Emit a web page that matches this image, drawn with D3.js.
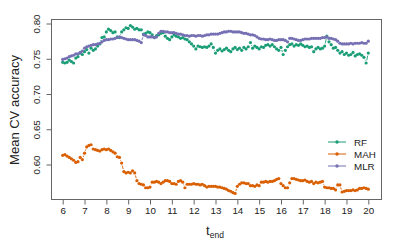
<!DOCTYPE html>
<html>
<head>
<meta charset="utf-8">
<script src="https://cdn.jsdelivr.net/npm/d3@7"></script>
<style>
  body { margin: 0; background: #fff; }
  text { font-family: "Liberation Sans", Arial, sans-serif; fill: #222; }
</style>
</head>
<body>
<div id="chart"></div>
<script>
// t_end grid: 6.0 .. 20.0 in steps of 0.1
var tStart = 6
var tStep = 0.1

var xTicks = [6, 7, 8, 9, 10, 11, 12, 13, 14, 15, 16, 17, 18, 19, 20]
var yTicks = [0.60, 0.65, 0.70, 0.75, 0.80]

var seriesNames = ['RF', 'MAH', 'MLR']
var seriesColors = ['#1b9e77', '#d95f02', '#7570b3']

var rf = [
  0.745, 0.744, 0.745, 0.748, 0.746, 0.744, 0.751, 0.753, 0.758, 0.756,
  0.760, 0.763, 0.758, 0.765, 0.762, 0.764, 0.768, 0.771, 0.780, 0.781,
  0.788, 0.792, 0.790, 0.787, 0.788, 0.781, 0.780, 0.788, 0.791, 0.794,
  0.793, 0.797, 0.795, 0.792, 0.793, 0.791, 0.791, 0.785, 0.786, 0.788,
  0.787, 0.784, 0.780, 0.783, 0.784, 0.786, 0.787, 0.782, 0.779, 0.777,
  0.781, 0.784, 0.782, 0.781, 0.779, 0.780, 0.778, 0.777, 0.774, 0.771,
  0.768, 0.764, 0.768, 0.767, 0.766, 0.767, 0.766, 0.768, 0.771, 0.766,
  0.758, 0.762, 0.764, 0.761, 0.763, 0.765, 0.762, 0.760, 0.764, 0.766,
  0.763, 0.765, 0.762, 0.766, 0.764, 0.767, 0.773, 0.765, 0.768, 0.766,
  0.764, 0.767, 0.766, 0.769, 0.770, 0.768, 0.770, 0.767, 0.764, 0.762,
  0.766, 0.756, 0.762, 0.767, 0.770, 0.771, 0.768, 0.770, 0.769, 0.771,
  0.769, 0.767, 0.768, 0.766, 0.767, 0.760, 0.764, 0.766, 0.764, 0.765,
  0.768, 0.782, 0.774, 0.770, 0.765, 0.766, 0.762, 0.758, 0.760, 0.756,
  0.758, 0.755, 0.756, 0.759, 0.754, 0.756, 0.757, 0.755, 0.752, 0.744,
  0.758
]

var mah = [
  0.613, 0.614, 0.612, 0.610, 0.608, 0.606, 0.603, 0.604, 0.610, 0.607,
  0.616, 0.625, 0.627, 0.628, 0.622, 0.621, 0.620, 0.619, 0.621, 0.622,
  0.621, 0.622, 0.620, 0.618, 0.616, 0.611, 0.610, 0.602, 0.590, 0.588,
  0.589, 0.588, 0.591, 0.588, 0.577, 0.573, 0.572, 0.571, 0.567, 0.567,
  0.568, 0.575, 0.575, 0.576, 0.575, 0.573, 0.575, 0.577, 0.577, 0.576,
  0.573, 0.573, 0.572, 0.576, 0.577, 0.575, 0.567, 0.572, 0.572, 0.572,
  0.573, 0.572, 0.572, 0.571, 0.572, 0.570, 0.568, 0.569, 0.569, 0.569,
  0.569, 0.568, 0.568, 0.567, 0.566, 0.565, 0.563, 0.562, 0.560, 0.559,
  0.569, 0.572, 0.574, 0.574, 0.573, 0.573, 0.570, 0.570, 0.569, 0.571,
  0.570, 0.575, 0.575, 0.576, 0.575, 0.576, 0.576, 0.577, 0.579, 0.580,
  0.573, 0.570, 0.567, 0.567, 0.574, 0.580, 0.580, 0.579, 0.578, 0.577,
  0.577, 0.578, 0.576, 0.575, 0.576, 0.573, 0.575, 0.574, 0.575, 0.576,
  0.568, 0.567, 0.567, 0.566, 0.566, 0.564, 0.571, 0.571, 0.561, 0.562,
  0.563, 0.563, 0.563, 0.564, 0.563, 0.564, 0.566, 0.566, 0.567, 0.566,
  0.565
]

var mlr = [
  0.749, 0.750, 0.751, 0.753, 0.754, 0.755, 0.757, 0.757, 0.759, 0.761,
  0.765, 0.767, 0.768, 0.769, 0.770, 0.770, 0.771, 0.772, 0.774, 0.776,
  0.777, 0.777, 0.778, 0.778, 0.779, 0.780, 0.781, 0.780, 0.779, 0.778,
  0.777, 0.777, 0.777, 0.777, 0.776, 0.775, 0.773, 0.784, 0.783, 0.781,
  0.781, 0.781, 0.780, 0.781, 0.786, 0.789, 0.789, 0.788, 0.788, 0.787,
  0.787, 0.787, 0.786, 0.785, 0.785, 0.784, 0.783, 0.783, 0.782, 0.783,
  0.783, 0.782, 0.783, 0.783, 0.782, 0.783, 0.784, 0.784, 0.785, 0.785,
  0.785, 0.785, 0.786, 0.787, 0.788, 0.788, 0.789, 0.789, 0.788, 0.788,
  0.788, 0.788, 0.787, 0.786, 0.786, 0.785, 0.784, 0.784, 0.783, 0.781,
  0.779, 0.778, 0.778, 0.777, 0.777, 0.778, 0.777, 0.776, 0.776, 0.777,
  0.777, 0.777, 0.776, 0.774, 0.779, 0.779, 0.778, 0.777, 0.776, 0.776,
  0.777, 0.778, 0.778, 0.778, 0.779, 0.779, 0.779, 0.779, 0.779, 0.780,
  0.780, 0.781, 0.779, 0.779, 0.778, 0.777, 0.775, 0.772, 0.771, 0.771,
  0.771, 0.771, 0.772, 0.771, 0.772, 0.772, 0.772, 0.773, 0.772, 0.772,
  0.775
]

var seriesValues = [rf, mah, mlr]

var width = 400
var height = 247
var box = { left: 51, right: 381, top: 19, bottom: 199 }
var gap = 2.6 // like R type = "b": segments stop short of the points

var xScale = d3.scaleLinear().domain([6, 20]).range([62.7, 368.3])
var yScale = d3.scaleLinear().domain([0.60, 0.80]).range([164.5, 23.5])

var svg = d3.select('#chart').append('svg')
      .attr('width', width)
      .attr('height', height)

svg.append('rect')
      .attr('x', box.left + 0.5)
      .attr('y', box.top + 0.5)
      .attr('width', box.right - box.left)
      .attr('height', box.bottom - box.top)
      .attr('fill', 'none')
      .attr('stroke', '#666')
      .attr('stroke-width', 1)

var xAxis = d3.axisBottom().scale(xScale).tickValues(xTicks)
      .tickSize(5).tickPadding(3).tickFormat(d3.format('d'))
var gx = svg.append('g')
      .attr('transform', 'translate(0,' + (box.bottom + 0.5) + ')')
      .call(xAxis)
gx.select('.domain').remove()
gx.selectAll('line').attr('stroke', '#666')
gx.selectAll('text').attr('font-size', '9.8px').attr('fill', '#222')
      .attr('font-family', '"Liberation Sans", Arial, sans-serif')

var yAxis = d3.axisLeft().scale(yScale).tickValues(yTicks)
      .tickSize(5).tickFormat(d3.format('.2f'))
var gy = svg.append('g')
      .attr('transform', 'translate(' + (box.left + 0.5) + ',0)')
      .call(yAxis)
gy.select('.domain').remove()
gy.selectAll('line').attr('stroke', '#666')
gy.selectAll('text')
      .attr('font-size', '9.8px').attr('fill', '#222')
      .attr('font-family', '"Liberation Sans", Arial, sans-serif')
      .attr('x', null).attr('dy', null)
      .attr('text-anchor', 'middle')
      .attr('transform', 'translate(-12,0) rotate(-90)')

// axis titles
svg.append('text')
      .attr('transform', 'translate(19,110) rotate(-90)')
      .attr('text-anchor', 'middle')
      .attr('font-size', '13px')
      .text('Mean CV accuracy')

var xt = svg.append('text')
      .attr('x', 215)
      .attr('y', 235)
      .attr('text-anchor', 'middle')
      .attr('font-size', '13px')
xt.append('tspan').text('t')
xt.append('tspan').attr('font-size', '8.5px').attr('dy', 2.5).text('end')

function segments (vals) {
  var pts = vals.map(function (d, i) { return [xScale(tStart + i * tStep), yScale(d)] })
  var out = []
  for (var i = 1; i < pts.length; i++) {
    var dx = pts[i][0] - pts[i - 1][0]
    var dy = pts[i][1] - pts[i - 1][1]
    var len = Math.sqrt(dx * dx + dy * dy)
    if (len <= 2 * gap) continue
    var ux = dx / len
    var uy = dy / len
    out.push([pts[i - 1][0] + ux * gap, pts[i - 1][1] + uy * gap,
      pts[i][0] - ux * gap, pts[i][1] - uy * gap])
  }
  return out
}

seriesValues.forEach(function (vals, k) {
  var g = svg.append('g')
  g.selectAll('line').data(segments(vals)).enter().append('line')
        .attr('x1', function (s) { return s[0] })
        .attr('y1', function (s) { return s[1] })
        .attr('x2', function (s) { return s[2] })
        .attr('y2', function (s) { return s[3] })
        .attr('stroke', seriesColors[k])
        .attr('stroke-width', 0.9)
  g.selectAll('circle').data(vals).enter().append('circle')
        .attr('cx', function (d, i) { return xScale(tStart + i * tStep) })
        .attr('cy', function (d) { return yScale(d) })
        .attr('r', 1.6)
        .attr('fill', seriesColors[k])
})

// legend
var legend = svg.append('g').attr('transform', 'translate(328,142)')
seriesNames.forEach(function (name, k) {
  var row = legend.append('g').attr('transform', 'translate(0,' + (k * 12) + ')')
  row.append('line')
        .attr('x1', 0).attr('x2', 18)
        .attr('stroke', seriesColors[k]).attr('stroke-width', 1)
  row.append('circle').attr('cx', 9).attr('r', 1.7).attr('fill', seriesColors[k])
  row.append('text')
        .attr('x', 26).attr('y', 3.5)
        .attr('font-size', '9.8px')
        .text(name)
})
</script>
</body>
</html>
